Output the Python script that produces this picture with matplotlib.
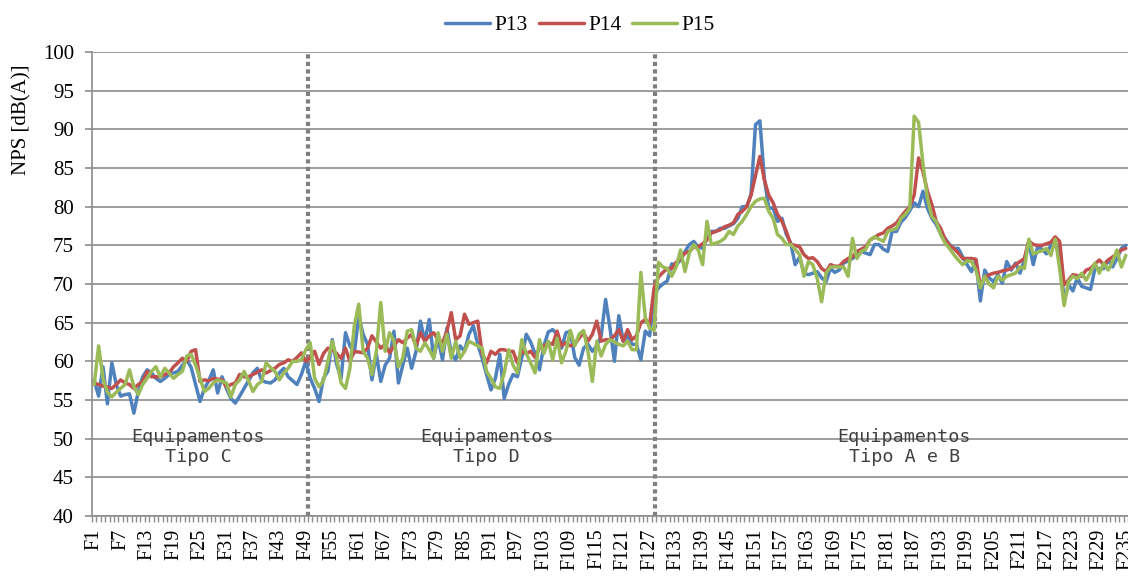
import matplotlib
matplotlib.use("Agg")
import matplotlib.pyplot as plt
from matplotlib.ticker import FixedLocator, FixedFormatter

# ---------------- data ----------------
categories = [f"F{i}" for i in range(1, 236)]

p13 = [
    57.5, 55.5, 59.3, 54.5, 59.8, 57.0, 55.5, 55.7, 55.8, 53.3,
    56.1, 58.0, 58.9, 58.5, 57.8, 57.4, 57.8, 58.3, 58.5, 58.7,
    59.5, 60.2, 59.2, 57.0, 54.8, 56.5, 57.5, 58.9, 55.9, 58.0,
    56.5, 55.2, 54.6, 55.5, 56.5, 57.5, 58.5, 59.1, 57.5, 57.3,
    57.2, 57.6, 58.5, 59.1, 58.0, 57.5, 57.0, 58.3, 60.0, 57.8,
    56.5, 54.8, 57.8, 58.7, 62.8, 59.6, 57.8, 63.7, 62.0, 61.1,
    65.9, 63.5, 62.2, 57.6, 60.9, 57.4, 59.5, 60.4, 63.9, 57.2,
    59.5, 61.7, 59.1, 61.3, 65.2, 62.6, 65.4, 60.4, 63.0, 60.2,
    64.3, 61.0, 60.2, 62.0, 61.3, 63.5, 64.6, 62.2, 60.4, 58.3,
    56.3, 57.8, 60.9, 55.2, 57.0, 58.3, 58.0, 60.5, 63.5, 62.5,
    61.0, 58.9, 62.0, 63.8, 64.1, 63.5, 61.7, 63.7, 63.9, 60.5,
    59.5, 61.7, 62.2, 61.3, 62.0, 63.3, 68.0, 64.3, 60.0, 65.9,
    62.6, 63.3, 62.2, 62.2, 60.2, 63.9, 63.3, 68.5, 69.5, 70.0,
    70.4, 72.6, 72.5, 73.1, 74.2, 75.1, 75.5, 74.8, 74.6, 75.9,
    76.8, 76.8, 77.2, 77.2, 77.5, 77.8, 78.5, 80.0, 80.0, 81.6,
    90.6, 91.1, 83.7, 79.8, 79.8, 78.1, 78.5, 76.4, 75.3, 72.5,
    73.5, 71.4, 71.2, 71.4, 71.6, 70.8, 70.3, 72.0, 71.5, 71.8,
    72.7, 73.0, 73.3, 73.8, 74.2, 74.0, 73.8, 75.1, 75.1, 74.5,
    74.2, 76.8, 76.8, 78.0, 78.6, 79.5, 80.5, 80.0, 82.0, 79.8,
    78.5, 77.7, 76.5, 75.9, 75.1, 74.6, 74.6, 73.5, 72.5, 71.6,
    73.1, 67.8, 71.8, 70.8, 70.3, 71.2, 70.1, 72.9, 71.8, 72.7,
    71.4, 73.1, 75.4, 72.5, 74.8, 74.5, 73.9, 75.0, 75.4, 74.1,
    67.8, 69.9, 69.1, 70.8, 69.7, 69.5, 69.3, 72.0, 72.0, 72.0,
    73.1, 72.2, 73.3, 74.6, 75.0,
]

p14 = [
    57.2, 57.0, 56.8, 56.7, 56.5, 57.0, 57.6, 57.2, 57.0, 56.5,
    57.0, 57.4, 58.7, 58.0, 58.0, 58.0, 58.3, 58.5, 59.3, 59.8,
    60.4, 60.0, 61.3, 61.5, 57.4, 57.6, 57.5, 57.8, 57.7, 57.6,
    56.7, 57.0, 57.2, 58.3, 58.0, 58.0, 58.3, 58.6, 58.9, 58.5,
    58.8, 59.1, 59.6, 59.8, 60.2, 60.0, 60.5, 61.1, 60.0, 60.5,
    61.3, 59.6, 61.0, 61.7, 61.5, 61.0, 60.4, 61.7, 60.0, 61.3,
    61.2, 61.1, 61.7, 63.3, 62.5, 61.7, 62.2, 61.1, 62.0, 62.8,
    62.4, 63.0, 63.5, 62.0, 63.7, 62.6, 63.3, 63.7, 62.8, 62.4,
    63.9, 66.3, 62.8, 63.3, 66.1, 64.8, 65.0, 65.2, 61.0, 59.8,
    61.3, 60.9, 61.5, 61.5, 61.3, 61.3, 59.8, 61.3, 61.0, 61.3,
    60.5, 61.7, 62.0, 62.4, 62.2, 63.9, 62.0, 62.4, 62.0, 62.2,
    63.0, 63.7, 62.6, 63.5, 65.2, 62.6, 62.8, 62.8, 63.3, 64.1,
    62.6, 64.1, 62.8, 63.3, 65.0, 65.4, 64.8, 69.5, 70.9, 71.5,
    72.0, 72.0, 72.8, 73.3, 74.0, 74.2, 74.8, 74.8, 75.2, 75.7,
    76.6, 76.8, 77.0, 77.4, 77.6, 77.9, 79.0, 79.4, 80.0, 81.5,
    84.0, 86.5, 83.5, 81.5, 80.5, 79.0, 78.1, 76.8, 75.1, 75.0,
    74.8, 73.8, 73.3, 73.4, 72.9, 72.0, 71.6, 72.5, 72.3, 72.3,
    72.9, 73.3, 73.5, 74.2, 74.5, 74.8, 75.7, 76.0, 76.4, 76.6,
    77.2, 77.5, 77.9, 78.7, 79.4, 80.0, 81.5, 86.3, 84.5, 82.0,
    80.3, 78.1, 77.2, 75.8, 75.0, 74.6, 74.0, 73.3, 73.3, 73.3,
    73.2, 69.8, 70.8, 71.2, 71.4, 71.5, 71.7, 71.8, 72.0, 72.5,
    72.9, 73.3, 75.6, 75.1, 75.0, 75.0, 75.2, 75.4, 76.1, 75.5,
    69.9, 70.5, 71.2, 71.1, 71.0, 71.8, 72.0, 72.6, 73.1, 72.5,
    73.1, 73.5, 73.9, 74.4, 74.6,
]

p15 = [
    57.0, 62.0, 57.8, 56.0, 55.4, 56.0, 56.5, 57.0, 58.9, 56.7,
    55.7, 57.0, 57.8, 58.7, 59.3, 58.0, 59.1, 58.5, 57.8, 58.3,
    58.7, 60.7, 60.9, 59.5, 57.8, 56.1, 56.5, 57.2, 57.6, 57.4,
    57.2, 55.4, 57.0, 57.6, 58.7, 57.5, 56.1, 57.0, 57.4, 59.8,
    59.2, 58.7, 57.6, 58.5, 59.1, 60.0, 60.0, 60.2, 61.5, 62.4,
    57.8, 56.7, 57.5, 60.0, 62.6, 60.4, 57.2, 56.5, 59.1, 64.6,
    67.4, 61.3, 60.4, 58.3, 61.3, 67.6, 61.3, 63.7, 62.6, 59.3,
    60.4, 63.9, 64.1, 61.7, 61.3, 62.4, 61.5, 60.4, 63.7, 61.3,
    63.5, 60.4, 62.6, 60.4, 61.3, 62.6, 62.3, 62.0, 61.7, 58.7,
    57.8, 56.7, 56.5, 58.5, 61.5, 59.5, 58.5, 62.8, 61.0, 59.8,
    58.5, 62.8, 61.0, 62.6, 60.2, 63.0, 59.8, 61.3, 64.0, 62.0,
    63.5, 64.0, 61.3, 57.4, 62.6, 60.7, 62.2, 62.8, 62.5, 62.2,
    62.0, 62.6, 61.5, 61.5, 71.5, 65.7, 64.3, 64.0, 72.8, 72.2,
    72.0, 71.0, 72.2, 74.4, 71.6, 74.0, 75.1, 74.4, 72.5, 78.1,
    75.1, 75.3, 75.5, 75.9, 76.8, 76.4, 77.5, 78.1, 79.0, 80.0,
    80.7, 81.0, 81.1, 79.4, 78.5, 76.4, 75.9, 75.1, 75.1, 74.5,
    73.8, 71.0, 72.9, 72.5, 70.7, 67.7, 71.4, 72.2, 72.2, 72.2,
    72.2, 71.0, 75.9, 73.3, 74.2, 74.5, 75.7, 76.1, 75.8, 75.5,
    76.8, 77.0, 77.2, 78.5, 79.0, 79.8, 91.7, 90.9, 85.5, 81.1,
    78.7, 78.1, 76.4, 75.3, 74.6, 73.8, 73.1, 72.5, 73.0, 72.9,
    71.8, 69.5, 71.0, 70.0, 69.5, 71.0, 70.5, 71.0, 71.2, 71.4,
    72.2, 72.0, 75.8, 73.9, 74.1, 74.3, 74.6, 73.7, 75.8, 72.0,
    67.2, 70.3, 71.0, 70.7, 71.4, 70.5, 71.5, 72.7, 71.4, 72.7,
    71.8, 72.9, 74.4, 72.2, 73.7,
]

series_names = ["P13", "P14", "P15"]
series_colors = ["#4F81BD", "#C0504D", "#9BBB59"]
divider_positions = [49.4, 128.2]
group_labels = ["Equipamentos\nTipo C", "Equipamentos\nTipo D", "Equipamentos\nTipo A e B"]
group_label_x = [24.6, 90.0, 184.8]
y_ticks = list(range(40, 101, 5))
label_every = 6

# ---------------- figure ----------------
SERIF = ["Liberation Serif", "DejaVu Serif"]
W, H = 1128, 579
fig = plt.figure(figsize=(W / 100, H / 100), dpi=100)
ax = fig.add_axes([92 / W, 63 / H, (W - 92) / W, (516 - 52) / H])

x = list(range(1, len(categories) + 1))
for vals, name, col in zip([p13, p14, p15], series_names, series_colors):
    ax.plot(x, vals, color=col, lw=2.5, label=name,
            solid_joinstyle="round", solid_capstyle="round", zorder=3)

ax.set_xlim(0.5, len(categories) + 0.5)
ax.set_ylim(40, 100)

# grid
ax.set_yticks(y_ticks)
ax.yaxis.grid(True, color="#8C8C8C", lw=1.2, zorder=0)
ax.set_axisbelow(True)
for s in ["top", "right"]:
    ax.spines[s].set_visible(False)
for s in ["left", "bottom"]:
    ax.spines[s].set_color("#8C8C8C")
    ax.spines[s].set_linewidth(1.2)

ax.tick_params(axis="y", length=5, width=1.2, color="#8C8C8C", pad=8,
               labelsize=15)
for lab in ax.get_yticklabels():
    lab.set_fontfamily(SERIF)

major = x[::label_every]
ax.xaxis.set_major_locator(FixedLocator(major))
ax.xaxis.set_major_formatter(FixedFormatter(categories[::label_every]))
ax.xaxis.set_minor_locator(FixedLocator([i + 0.5 for i in range(0, len(categories) + 1)]))
ax.tick_params(axis="x", which="major", length=0, pad=9, labelsize=14.5,
               labelrotation=90)
ax.tick_params(axis="x", which="minor", length=4, width=1, color="#8C8C8C")
for lab in ax.get_xticklabels():
    lab.set_fontfamily(SERIF)
    lab.set_verticalalignment("top")

# dividers
for d in divider_positions:
    ax.axvline(d, color="#7F7F7F", lw=3.0, linestyle=(0, (1, 0.8)),
               dash_capstyle="butt", zorder=2)

# group labels
for gx, gl in zip(group_label_x, group_labels):
    ax.text(gx, 48.9, gl, ha="center", va="center", fontsize=13.2,
            family="DejaVu Sans Mono", color="#404040", linespacing=1.1,
            zorder=4)

# y label
fig.text(22 / W, 1 - 120 / H, "NPS [dB(A)]", rotation=90, ha="center",
         va="center", fontsize=15, family=SERIF)

# legend
fig.legend(loc="center", bbox_to_anchor=(580 / W, 1 - 25 / H), ncol=3,
           frameon=False, handlelength=2.1, handletextpad=0.2,
           columnspacing=0.5, prop={"family": SERIF, "size": 15.5})

fig.savefig("out.png", dpi=100)
